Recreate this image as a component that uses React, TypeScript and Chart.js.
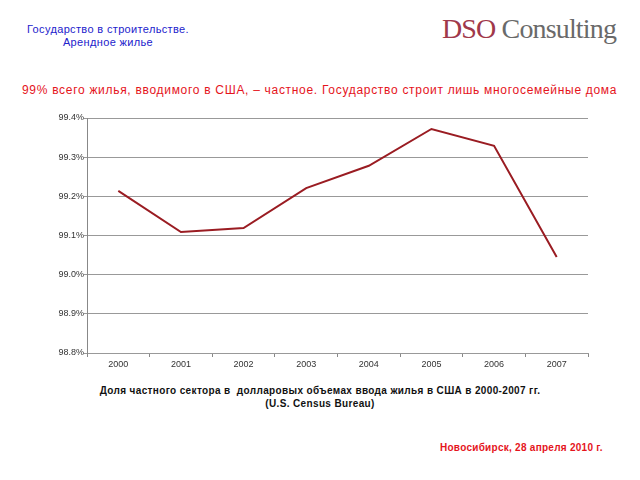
import React, { useEffect, useRef } from "react";
import { Chart, registerables } from "chart.js";

Chart.register(...registerables);

const years = ["2000", "2001", "2002", "2003", "2004", "2005", "2006", "2007"];
const privateShare = [99.214, 99.109, 99.119, 99.221, 99.278, 99.372, 99.329, 99.045];
const yMin = 98.8;
const yMax = 99.4;
const yStep = 0.1;

const txt = (extra: React.CSSProperties): React.CSSProperties => ({
  position: "absolute",
  fontFamily: "'Liberation Sans', Arial, sans-serif",
  whiteSpace: "nowrap",
  margin: 0,
  ...extra,
});

export default function App() {
  const ref = useRef<HTMLCanvasElement | null>(null);

  useEffect(() => {
    document.body.style.margin = "0";
    const ctx = ref.current!;
    const chart = new Chart(ctx, {
      type: "line",
      data: {
        labels: years,
        datasets: [
          {
            data: privateShare,
            borderColor: "#9a1c22",
            borderWidth: 2,
            pointRadius: 0,
            tension: 0,
            fill: false,
          },
        ],
      },
      options: {
        animation: false,
        responsive: false,
        maintainAspectRatio: false,
        layout: { padding: { left: 0, right: 52, top: 18, bottom: 0 } },
        plugins: { legend: { display: false }, tooltip: { enabled: false } },
        scales: {
          x: {
            type: "category",
            offset: true,
            grid: {
              offset: true,
              drawOnChartArea: false,
              drawTicks: true,
              tickLength: 4,
              color: "#888",
            },
            border: { color: "#999", width: 1 },
            ticks: {
              color: "#333",
              font: { family: "'Liberation Sans', Arial, sans-serif", size: 9 },
              padding: 2,
              maxRotation: 0,
            },
            afterFit: (s: any) => {
              s.height = 17;
            },
          },
          y: {
            min: yMin,
            max: yMax,
            grid: {
              color: "#999",
              lineWidth: 1,
              drawTicks: true,
              tickLength: 3,
            },
            border: { color: "#888", width: 1 },
            ticks: {
              stepSize: yStep,
              color: "#333",
              font: { family: "'Liberation Sans', Arial, sans-serif", size: 9 },
              padding: 0,
              callback: (v: any) => Number(v).toFixed(1) + "%",
            },
            afterFit: (s: any) => {
              s.width = 87;
            },
          },
        },
      },
    });
    return () => chart.destroy();
  }, []);

  return (
    <div style={{ position: "fixed", left: 0, top: 0, width: 640, height: 480, background: "#fff", overflow: "hidden" }}>
      <div style={txt({ left: 0, top: 23, width: 216, textAlign: "center", color: "#2222cc", fontSize: 11, lineHeight: "13px", letterSpacing: 0.35 })}>
        Государство в строительстве.
        <br />
        Арендное жилье
      </div>
      <div style={txt({ left: 442, top: 12, fontFamily: "'Liberation Serif', 'Times New Roman', serif", fontSize: 28, lineHeight: "34px", letterSpacing: -0.85 })}>
        <span style={{ color: "#a0384a" }}>DSO</span>
        <span style={{ color: "#6a6a6a" }}> Consulting</span>
      </div>
      <div style={txt({ left: 22, top: 83, color: "#e5141c", fontSize: 12, lineHeight: "15px", letterSpacing: 0.7 })}>
        99% всего жилья, вводимого в США, – частное. Государство строит лишь многосемейные дома
      </div>
      <canvas ref={ref} width={640} height={270} style={{ position: "absolute", left: 0, top: 100, width: 640, height: 270 }} />
      <div style={txt({ left: 0, top: 384, width: 640, textAlign: "center", color: "#111", fontSize: 10, fontWeight: "bold", lineHeight: "13px", letterSpacing: 0.36 })}>
        Доля частного сектора в&nbsp; долларовых объемах ввода жилья в США в 2000-2007 гг.
        <br />
        (U.S. Census Bureau)
      </div>
      <div style={txt({ left: 440, top: 441, color: "#e5141c", fontSize: 10, fontWeight: "bold", lineHeight: "13px", letterSpacing: 0.27 })}>
        Новосибирск, 28 апреля 2010 г.
      </div>
    </div>
  );
}
